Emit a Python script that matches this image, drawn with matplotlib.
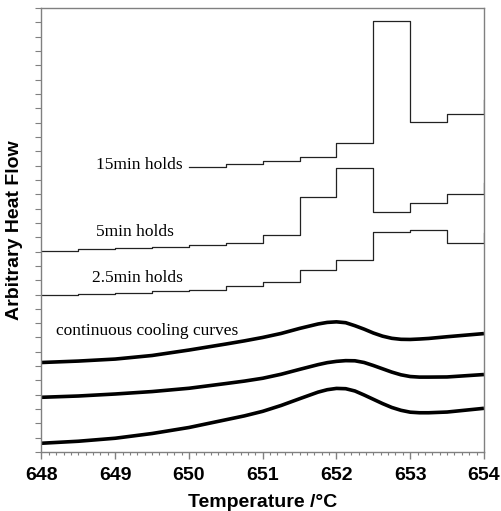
import matplotlib.pyplot as plt
import numpy as np

# step (isothermal hold) curves: levels held over each 0.5 C interval, last value = end of trace
edges15 = [650.0, 650.5, 651.0, 651.5, 652.0, 652.5, 653.0, 653.5, 654.0]
hold15 = [19.92, 20.09, 20.32, 20.62, 21.55, 30.11, 23.04, 23.60, 24.58]

edges5 = [648.0, 648.5, 649.0, 649.5, 650.0, 650.5, 651.0, 651.5, 652.0, 652.5, 653.0, 653.5, 654.0]
hold5 = [14.05, 14.15, 14.22, 14.33, 14.46, 14.61, 15.13, 17.78, 19.81, 16.78, 17.36, 17.99, 18.78]

edges25 = [648.0, 648.5, 649.0, 649.5, 650.0, 650.5, 651.0, 651.5, 652.0, 652.5, 653.0, 653.5, 654.0]
hold25 = [10.94, 11.01, 11.08, 11.24, 11.33, 11.59, 11.89, 12.71, 13.41, 15.38, 15.50, 14.57, 15.29]

# continuous cooling curves
temp_cc = [648.0, 648.5, 649.0, 649.5, 650.0, 650.5, 650.75, 651.0, 651.25, 651.5, 651.75,
           651.875, 652.0, 652.125, 652.25, 652.375, 652.5, 652.625, 652.75, 652.875,
           653.0, 653.125, 653.25, 653.5, 654.0]
cc_top = [6.25, 6.35, 6.49, 6.74, 7.12, 7.54, 7.76, 8.00, 8.28, 8.63, 8.94,
          9.05, 9.09, 9.03, 8.82, 8.58, 8.31, 8.09, 7.94, 7.87,
          7.86, 7.89, 7.93, 8.05, 8.27]
cc_mid = [3.82, 3.91, 4.05, 4.22, 4.45, 4.78, 4.95, 5.15, 5.43, 5.77, 6.10,
          6.24, 6.33, 6.38, 6.37, 6.25, 6.04, 5.81, 5.58, 5.39,
          5.27, 5.23, 5.23, 5.24, 5.41]
cc_bot = [0.61, 0.75, 0.96, 1.29, 1.71, 2.25, 2.52, 2.84, 3.25, 3.72, 4.18,
          4.35, 4.44, 4.42, 4.26, 3.98, 3.68, 3.38, 3.11, 2.91,
          2.78, 2.74, 2.74, 2.79, 3.05]

xticks = [648, 649, 650, 651, 652, 653, 654]

fig = plt.figure(figsize=(5.01, 5.11), dpi=100)
ax = fig.add_axes([0.0828, 0.1155, 0.8832, 0.8685])

for e, h in [(edges15, hold15), (edges5, hold5), (edges25, hold25)]:
    ax.step(e, h, where="post", color="#222222", linewidth=0.9)

for c in [cc_top, cc_mid, cc_bot]:
    ax.plot(temp_cc, c, color="k", linewidth=2.6, solid_capstyle="butt",
            solid_joinstyle="round")

serif = dict(family="Liberation Serif", fontsize=12.5)
ax.text(649.92, 20.05, "15min holds", ha="right", va="center", **serif)
ax.text(649.27, 15.37, "5min holds", ha="center", va="center", **serif)
ax.text(649.30, 12.17, "2.5min holds", ha="center", va="center", **serif)
ax.text(648.2, 8.47, "continuous cooling curves", ha="left", va="center", **serif)

ax.set_xlim(648, 654)
ax.set_ylim(0, 31)
ax.set_xticks(xticks)
ax.set_xticks(np.arange(648, 654.01, 0.1), minor=True)
ax.set_xticklabels([str(t) for t in xticks], fontfamily="Liberation Sans",
                   fontweight="bold", fontsize=14)
ax.set_yticks(np.arange(0, 32, 1))
ax.set_yticklabels([])
ax.tick_params(axis="x", which="major", direction="out", length=5, width=1,
               color="#808080", pad=6)
ax.tick_params(axis="x", which="minor", direction="out", length=2.5, width=0.8,
               color="#808080")
ax.tick_params(axis="y", direction="out", length=4, width=0.8, color="#808080")
for s in ax.spines.values():
    s.set_color("#808080")
    s.set_linewidth(1)

ax.set_xlabel("Temperature /°C", fontfamily="Liberation Sans", fontweight="bold",
              fontsize=14, labelpad=7)
ax.set_ylabel("Arbitrary Heat Flow", fontfamily="Liberation Sans", fontweight="bold",
              fontsize=14, labelpad=6)

fig.savefig("out.png", dpi=100)
